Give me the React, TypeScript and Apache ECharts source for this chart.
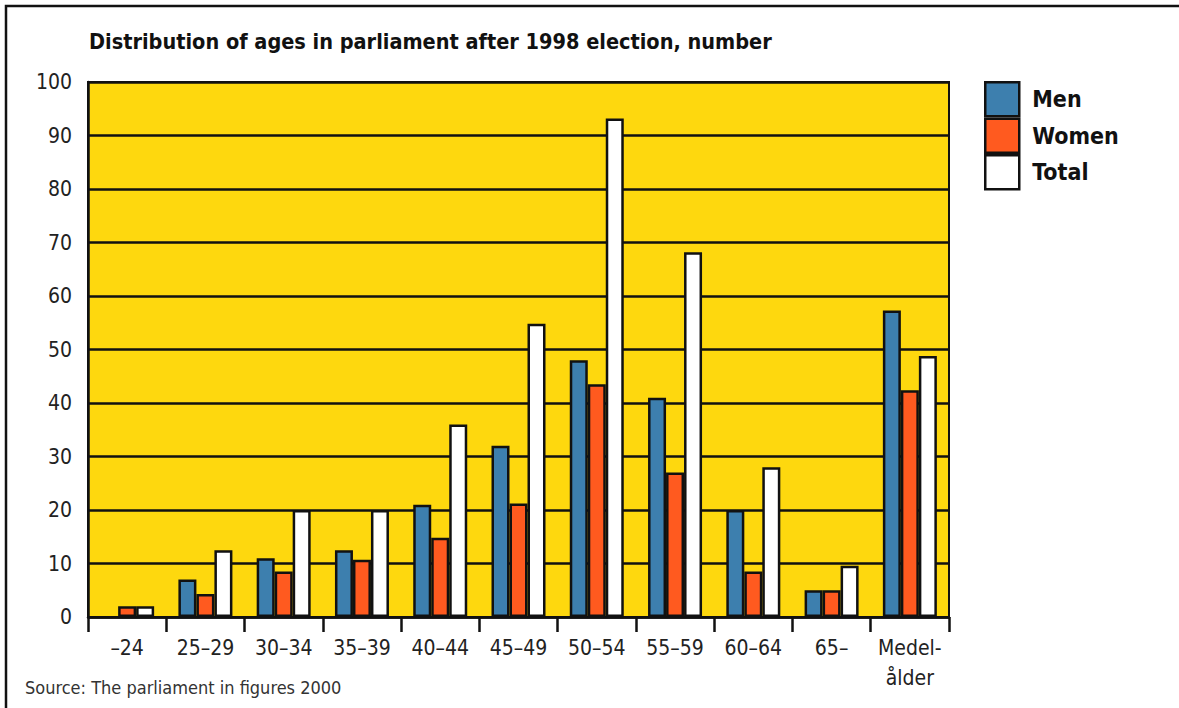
import React, { useEffect, useRef } from "react";
import * as echarts from "echarts";

// Age groups on the x axis
const categories = ["–24", "25–29", "30–34", "35–39", "40–44", "45–49", "50–54", "55–59", "60–64", "65–", "Medel-\nålder"];

// Number of members per age group (last group: average age)
const men = [0, 7, 11, 12.5, 21, 32, 48, 41, 20, 5, 57.3];
const women = [2, 4.3, 8.5, 10.7, 14.8, 21.2, 43.5, 27, 8.5, 5, 42.4];
const total = [2, 12.5, 20, 20, 36, 54.8, 93.2, 68.2, 28, 9.6, 48.8];

const seriesNames = ["Men", "Women", "Total"];
const yTicks = { min: 0, max: 100, interval: 10 };

const FONT = "'Liberation Sans Narrow', 'DejaVu Sans Condensed', 'Liberation Sans', sans-serif";
const COLORS = ["#3d7fae", "#ff5a1f", "#ffffff"];

// Empty groups get no bar at all (not even a border line on the axis)
const asBars = (values: number[]) => values.map((v) => (v === 0 ? "-" : v));

export default function App() {
  const ref = useRef<HTMLDivElement>(null);

  useEffect(() => {
    if (!ref.current) return;
    const chart = echarts.init(ref.current, null, { renderer: "svg" });
    const barStyle = (color: string) => ({
      color,
      borderColor: "#111",
      borderWidth: 2.5,
    });
    chart.setOption({
      animation: false,
      backgroundColor: "#ffffff",
      textStyle: { fontFamily: FONT },
      title: {
        text: "Distribution of ages in parliament after 1998 election, number",
        left: 89,
        top: 30,
        padding: 0,
        textStyle: { fontFamily: FONT, fontSize: 21.5, fontWeight: "bold", color: "#111" },
      },
      legend: {
        orient: "vertical",
        left: 984,
        top: 81,
        padding: 0,
        itemWidth: 34,
        itemHeight: 34,
        itemGap: 0,
        icon: "rect",
        itemStyle: { borderColor: "#111", borderWidth: 2.5 },
        textStyle: { fontFamily: FONT, fontSize: 23, fontWeight: "bold", color: "#111", padding: [0, 0, 0, 8] },
        data: seriesNames,
      },
      grid: {
        left: 88,
        top: 82,
        right: 230,
        bottom: 91,
        show: true,
        backgroundColor: "#fed80e",
        borderColor: "#111",
        borderWidth: 2,
      },
      xAxis: {
        type: "category",
        data: categories,
        boundaryGap: true,
        axisLine: { show: true, lineStyle: { color: "#111", width: 2.5 } },
        axisTick: { show: true, length: 15, lineStyle: { color: "#111", width: 2.5 } },
        axisLabel: {
          fontFamily: FONT,
          fontSize: 21,
          color: "#222",
          margin: 16,
          lineHeight: 30,
          interval: 0,
        },
      },
      yAxis: {
        type: "value",
        min: yTicks.min,
        max: yTicks.max,
        interval: yTicks.interval,
        axisLine: { show: true, lineStyle: { color: "#111", width: 2.5 } },
        axisTick: { show: false },
        axisLabel: { fontFamily: FONT, fontSize: 21, color: "#222", margin: 16 },
        splitLine: { show: true, lineStyle: { color: "#111", width: 2.5 } },
      },
      series: [
        { name: seriesNames[0], type: "bar", data: asBars(men), barWidth: 18, barGap: "0%", itemStyle: barStyle(COLORS[0]) },
        { name: seriesNames[1], type: "bar", data: asBars(women), barWidth: 18, barGap: "0%", itemStyle: barStyle(COLORS[1]) },
        { name: seriesNames[2], type: "bar", data: asBars(total), barWidth: 18, barGap: "0%", itemStyle: barStyle(COLORS[2]) },
      ],
      graphic: [
        {
          type: "rect",
          shape: { x: 6, y: 6, width: 1200, height: 720 },
          style: { fill: "none", stroke: "#111", lineWidth: 2.5 },
          silent: true,
        },
        {
          type: "text",
          left: 25,
          top: 678,
          style: {
            text: "Source: The parliament in figures 2000",
            fontFamily: FONT,
            fontSize: 18,
            fill: "#333",
          },
        },
      ],
    });
    return () => chart.dispose();
  }, []);

  return (
    <div
      ref={ref}
      style={{ position: "absolute", left: 0, top: 0, width: 1179, height: 708 }}
    />
  );
}
